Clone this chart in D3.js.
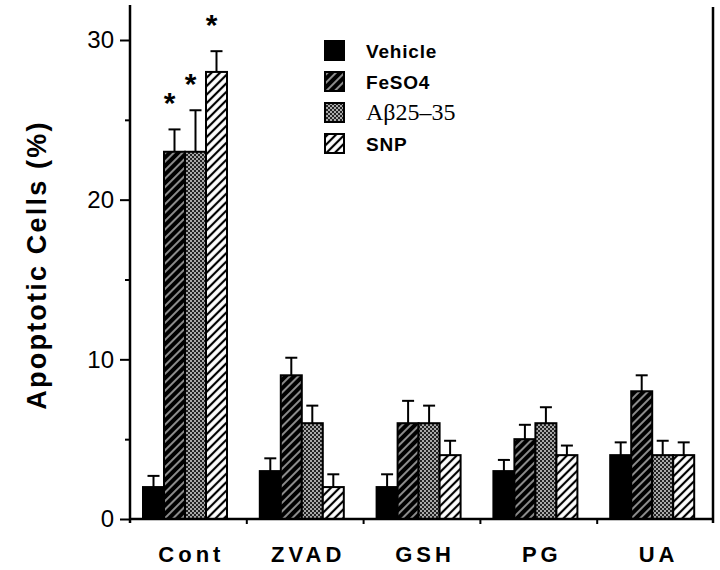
<!DOCTYPE html>
<html>
<head>
<meta charset="utf-8">
<script src="https://cdn.jsdelivr.net/npm/d3@7"></script>
<style>
  html, body { margin: 0; padding: 0; background: #fff; }
  svg { display: block; }
</style>
</head>
<body>
<svg id="chart" width="720" height="570"></svg>
<script>
// ---- data ----
const categories = ["Cont", "ZVAD", "GSH", "PG", "UA"];
const seriesNames = ["Vehicle", "FeSO4", "A\u03b225\u201335", "SNP"];
const vehicle    = [2, 3, 2, 3, 4];
const vehicleErr = [0.7, 0.8, 0.8, 0.7, 0.8];
const feso4      = [23, 9, 6, 5, 8];
const feso4Err   = [1.4, 1.1, 1.4, 0.9, 1.0];
const abeta      = [23, 6, 6, 6, 4];
const abetaErr   = [2.6, 1.1, 1.1, 1.0, 0.9];
const snp        = [28, 2, 4, 4, 4];
const snpErr     = [1.3, 0.8, 0.9, 0.6, 0.8];
const significant = [ // star markers: [category index, series index]
  [0, 1], [0, 2], [0, 3]
];
const yTicksMajor = [0, 10, 20, 30];
const yTicksMinor = [5, 15, 25];

const seriesValues = [vehicle, feso4, abeta, snp];
const seriesErrors = [vehicleErr, feso4Err, abetaErr, snpErr];

// ---- layout ----
const svg = d3.select("#chart");
const left = 130, right = 714, bottom = 519, axisTop = 5;

const y = d3.scaleLinear().domain([0, 30]).range([bottom, 40]);
const x0 = d3.scaleBand().domain(categories).range([left, right]);
const x1 = d3.scaleBand().domain(seriesNames).range([13, 97]);

// ---- patterns ----
const defs = svg.append("defs");
const pFe = defs.append("pattern").attr("id", "pFe").attr("patternUnits", "userSpaceOnUse")
  .attr("width", 6).attr("height", 6).attr("patternTransform", "rotate(45)");
pFe.append("rect").attr("width", 6).attr("height", 6).attr("fill", "#000");
pFe.append("line").attr("x1", 3).attr("y1", 0).attr("x2", 3).attr("y2", 6)
  .attr("stroke", "#fff").attr("stroke-width", 1.1);

const pAb = defs.append("pattern").attr("id", "pAb").attr("patternUnits", "userSpaceOnUse")
  .attr("width", 4).attr("height", 4);
pAb.append("rect").attr("width", 4).attr("height", 4).attr("fill", "#a8a8a8");
pAb.append("rect").attr("width", 2).attr("height", 2).attr("fill", "#222");
pAb.append("rect").attr("x", 2).attr("y", 2).attr("width", 2).attr("height", 2).attr("fill", "#222");

const pSnp = defs.append("pattern").attr("id", "pSnp").attr("patternUnits", "userSpaceOnUse")
  .attr("width", 6).attr("height", 6).attr("patternTransform", "rotate(45)");
pSnp.append("rect").attr("width", 6).attr("height", 6).attr("fill", "#fff");
pSnp.append("line").attr("x1", 3).attr("y1", 0).attr("x2", 3).attr("y2", 6)
  .attr("stroke", "#000").attr("stroke-width", 2.2);

const fills = ["#000", "url(#pFe)", "url(#pAb)", "url(#pSnp)"];

// ---- bars ----
const rows = [];
categories.forEach((c, ci) => {
  seriesNames.forEach((s, si) => {
    rows.push({ c, s, ci, si, v: seriesValues[si][ci], e: seriesErrors[si][ci] });
  });
});

const g = svg.append("g");
const capW = 12;
g.selectAll("line.err").data(rows).join("line").attr("class", "err")
  .attr("x1", d => x0(d.c) + x1(d.s) + x1.bandwidth() / 2)
  .attr("x2", d => x0(d.c) + x1(d.s) + x1.bandwidth() / 2)
  .attr("y1", d => y(d.v)).attr("y2", d => y(d.v + d.e))
  .attr("stroke", "#000").attr("stroke-width", 2);
g.selectAll("line.cap").data(rows).join("line").attr("class", "cap")
  .attr("x1", d => x0(d.c) + x1(d.s) + x1.bandwidth() / 2 - capW / 2)
  .attr("x2", d => x0(d.c) + x1(d.s) + x1.bandwidth() / 2 + capW / 2)
  .attr("y1", d => y(d.v + d.e)).attr("y2", d => y(d.v + d.e))
  .attr("stroke", "#000").attr("stroke-width", 2);

g.selectAll("rect.bar").data(rows).join("rect").attr("class", "bar")
  .attr("x", d => x0(d.c) + x1(d.s))
  .attr("width", x1.bandwidth())
  .attr("y", d => y(d.v))
  .attr("height", d => y(0) - y(d.v))
  .attr("fill", d => fills[d.si])
  .attr("stroke", "#000").attr("stroke-width", 2);

// stars
g.selectAll("text.star").data(significant).join("text").attr("class", "star")
  .attr("x", d => x0(categories[d[0]]) + x1(seriesNames[d[1]]) + x1.bandwidth() / 2 - 5)
  .attr("y", d => y(seriesValues[d[1]][d[0]] + seriesErrors[d[1]][d[0]]) - 16)
  .attr("text-anchor", "middle")
  .attr("font-family", "Liberation Sans, Arial, sans-serif")
  .attr("font-weight", "bold").attr("font-size", 30)
  .text("*");

// ---- axes ----
const yAxis = d3.axisLeft(y).tickValues(yTicksMajor).tickSize(10).tickPadding(6);
const yg = svg.append("g").attr("transform", `translate(${left},0)`).call(yAxis);
yg.select(".domain").remove();
yg.selectAll(".tick line").attr("stroke", "#000").attr("stroke-width", 2);
yg.selectAll(".tick text").attr("font-family", "Liberation Sans, Arial, sans-serif")
  .attr("font-size", 24).attr("fill", "#000");
const yMinor = d3.axisLeft(y).tickValues(yTicksMinor).tickSize(5).tickFormat("");
const ym = svg.append("g").attr("transform", `translate(${left},0)`).call(yMinor);
ym.select(".domain").remove();
ym.selectAll(".tick line").attr("stroke", "#000").attr("stroke-width", 2);

// frame lines
svg.append("line").attr("x1", left).attr("x2", left).attr("y1", axisTop).attr("y2", bottom + 4)
  .attr("stroke", "#000").attr("stroke-width", 2.5);
svg.append("line").attr("x1", right - 1).attr("x2", right - 1).attr("y1", axisTop + 2).attr("y2", bottom + 4)
  .attr("stroke", "#000").attr("stroke-width", 2.5);
svg.append("line").attr("x1", left).attr("x2", right).attr("y1", bottom).attr("y2", bottom)
  .attr("stroke", "#000").attr("stroke-width", 2.5);

// x boundary ticks
const bounds = categories.map(c => x0(c) + x0.bandwidth());
svg.selectAll("line.xt").data(bounds.slice(0, -1)).join("line").attr("class", "xt")
  .attr("x1", d => d).attr("x2", d => d).attr("y1", bottom).attr("y2", bottom + 5)
  .attr("stroke", "#000").attr("stroke-width", 2);

// x labels
svg.selectAll("text.xl").data(categories).join("text").attr("class", "xl")
  .attr("x", d => x0(d) + x0.bandwidth() / 2 + 3)
  .attr("y", 562)
  .attr("text-anchor", "middle")
  .attr("font-family", "Liberation Sans, Arial, sans-serif")
  .attr("font-weight", "bold").attr("font-size", 22)
  .attr("letter-spacing", 4)
  .text(d => d);

// y label
svg.append("text")
  .attr("transform", "translate(46,265) rotate(-90)")
  .attr("text-anchor", "middle")
  .attr("font-family", "Liberation Sans, Arial, sans-serif")
  .attr("font-weight", "bold").attr("font-size", 27)
  .attr("letter-spacing", 2.2)
  .text("Apoptotic Cells (%)");

// ---- legend ----
const leg = svg.append("g").attr("transform", "translate(324,41)");
const li = leg.selectAll("g").data(seriesNames).join("g")
  .attr("transform", (d, i) => `translate(0,${i * 31})`);
li.append("rect").attr("x", 1).attr("y", 0).attr("width", 19).attr("height", 19)
  .attr("fill", (d, i) => fills[i]).attr("stroke", "#000").attr("stroke-width", 2);
li.append("text").attr("x", 42).attr("y", 17)
  .attr("font-family", (d, i) => i === 2 ? "Liberation Serif, Times New Roman, serif" : "Liberation Sans, Arial, sans-serif")
  .attr("font-weight", (d, i) => i === 2 ? "normal" : "bold")
  .attr("font-size", (d, i) => i === 2 ? 24 : 19)
  .attr("letter-spacing", (d, i) => i === 2 ? 0 : 0.8)
  .text(d => d);
</script>
</body>
</html>
